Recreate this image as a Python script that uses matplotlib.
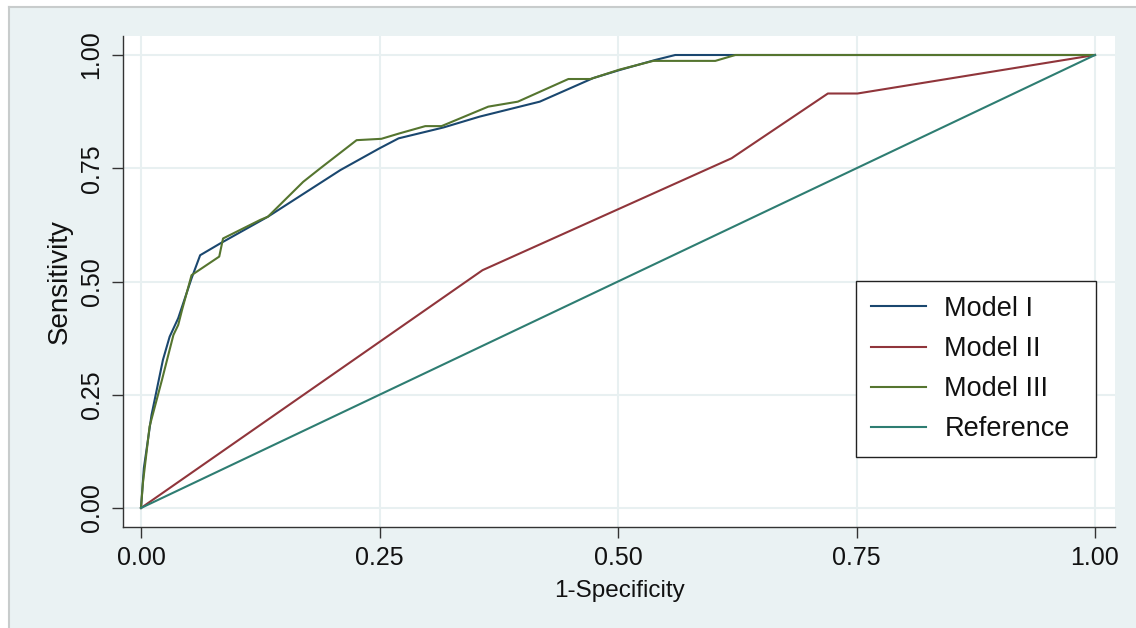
import matplotlib
matplotlib.use("Agg")
import matplotlib.pyplot as plt
from matplotlib.patches import Rectangle
from matplotlib.lines import Line2D

plt.rcParams["font.family"] = ["Liberation Sans", "DejaVu Sans"]

# ROC points (1-specificity, sensitivity)
model1_x = [0.0, 0.003, 0.011, 0.023, 0.030, 0.039, 0.053, 0.062, 0.083, 0.133,
            0.209, 0.25, 0.27, 0.317, 0.355, 0.397, 0.418, 0.474, 0.502, 0.539,
            0.560, 1.0]
model1_y = [0.0, 0.088, 0.205, 0.327, 0.378, 0.419, 0.507, 0.558, 0.584, 0.643,
            0.746, 0.794, 0.816, 0.840, 0.864, 0.886, 0.897, 0.949, 0.967, 0.989,
            1.0, 1.0]

model2_x = [0.0, 0.358, 0.619, 0.720, 0.751, 1.0]
model2_y = [0.0, 0.525, 0.772, 0.915, 0.915, 1.0]

model3_x = [0.0, 0.002, 0.009, 0.022, 0.029, 0.034, 0.039, 0.043, 0.053, 0.082,
            0.086, 0.125, 0.133, 0.170, 0.188, 0.226, 0.252, 0.271, 0.298, 0.315,
            0.364, 0.395, 0.448, 0.471, 0.502, 0.537, 0.602, 0.623, 1.0]
model3_y = [0.0, 0.055, 0.180, 0.283, 0.341, 0.382, 0.404, 0.437, 0.514, 0.555,
            0.595, 0.636, 0.643, 0.720, 0.750, 0.812, 0.815, 0.827, 0.843, 0.843,
            0.886, 0.897, 0.947, 0.947, 0.968, 0.987, 0.987, 1.0, 1.0]

ref_x = [0.0, 1.0]
ref_y = [0.0, 1.0]

series = [
    ("Model I", model1_x, model1_y, "#1A476F"),
    ("Model II", model2_x, model2_y, "#90353B"),
    ("Model III", model3_x, model3_y, "#55752F"),
    ("Reference", ref_x, ref_y, "#2E7D72"),
]
ticks = [0.0, 0.25, 0.5, 0.75, 1.0]
tick_labels = ["0.00", "0.25", "0.50", "0.75", "1.00"]

W, H = 1136, 628
fig = plt.figure(figsize=(W / 100, H / 100), dpi=100)
fig.patch.set_facecolor("white")

# Stata-like outer background and thin frame
fig.add_artist(Rectangle((10 / W, 0), 1, 1 - 8 / H, transform=fig.transFigure,
                         facecolor="#EAF2F3", edgecolor="none", zorder=0))
fig.add_artist(Line2D([9 / W, 1], [1 - 7 / H, 1 - 7 / H], transform=fig.transFigure,
                      color="#C8CCCC", linewidth=1.5, zorder=1))
fig.add_artist(Line2D([9 / W, 9 / W], [0, 1 - 7 / H], transform=fig.transFigure,
                      color="#C8CCCC", linewidth=1.5, zorder=1))

ax_left, ax_right, ax_top, ax_bottom = 123, 1115, 36, 527
ax = fig.add_axes([ax_left / W, 1 - ax_bottom / H,
                   (ax_right - ax_left) / W, (ax_bottom - ax_top) / H])
ax.set_facecolor("white")

for label, xs, ys, color in series:
    ax.plot(xs, ys, color=color, linewidth=1.5, label=label, zorder=3)

ax.set_xlim(-18 / 954, 974 / 954)
ax.set_ylim(-19 / 453, 472 / 453)
ax.set_xticks(ticks)
ax.set_xticklabels(tick_labels)
ax.set_yticks(ticks)
ax.set_yticklabels(tick_labels, rotation=90, va="center")
ax.grid(True, color="#E8F0F1", linewidth=1.5, zorder=1)
ax.set_axisbelow(True)

for side in ("top", "right"):
    ax.spines[side].set_visible(False)
for side in ("left", "bottom"):
    ax.spines[side].set_color("#333333")
    ax.spines[side].set_linewidth(1.0)
ax.tick_params(axis="both", direction="out", length=8, width=1.0, color="#333333",
               labelsize=18, pad=6, labelcolor="#111111")

ax.set_xlabel("1-Specificity", fontsize=17.5, color="#111111", labelpad=7)
ax.set_ylabel("Sensitivity", fontsize=20, color="#111111", labelpad=5)

# legend box spans roughly x 856..1096, top at y 281 (pixels)
aw, ah = ax_right - ax_left, ax_bottom - ax_top
leg = ax.legend(loc="upper left",
                bbox_to_anchor=((856 - ax_left) / aw, (ax_bottom - 281) / ah,
                                (1096 - 856) / aw, 0.0),
                mode="expand",
                fontsize=19.5, frameon=True, fancybox=False, handlelength=2.05,
                handletextpad=0.66, labelspacing=0.52, borderpad=0.55,
                borderaxespad=0.0)
leg.get_frame().set_edgecolor("#222222")
leg.get_frame().set_linewidth(1.0)
leg.get_frame().set_facecolor("white")
leg.get_frame().set_alpha(1.0)
for text in leg.get_texts():
    text.set_color("#111111")

fig.savefig("out.png", dpi=100, facecolor=fig.get_facecolor())
